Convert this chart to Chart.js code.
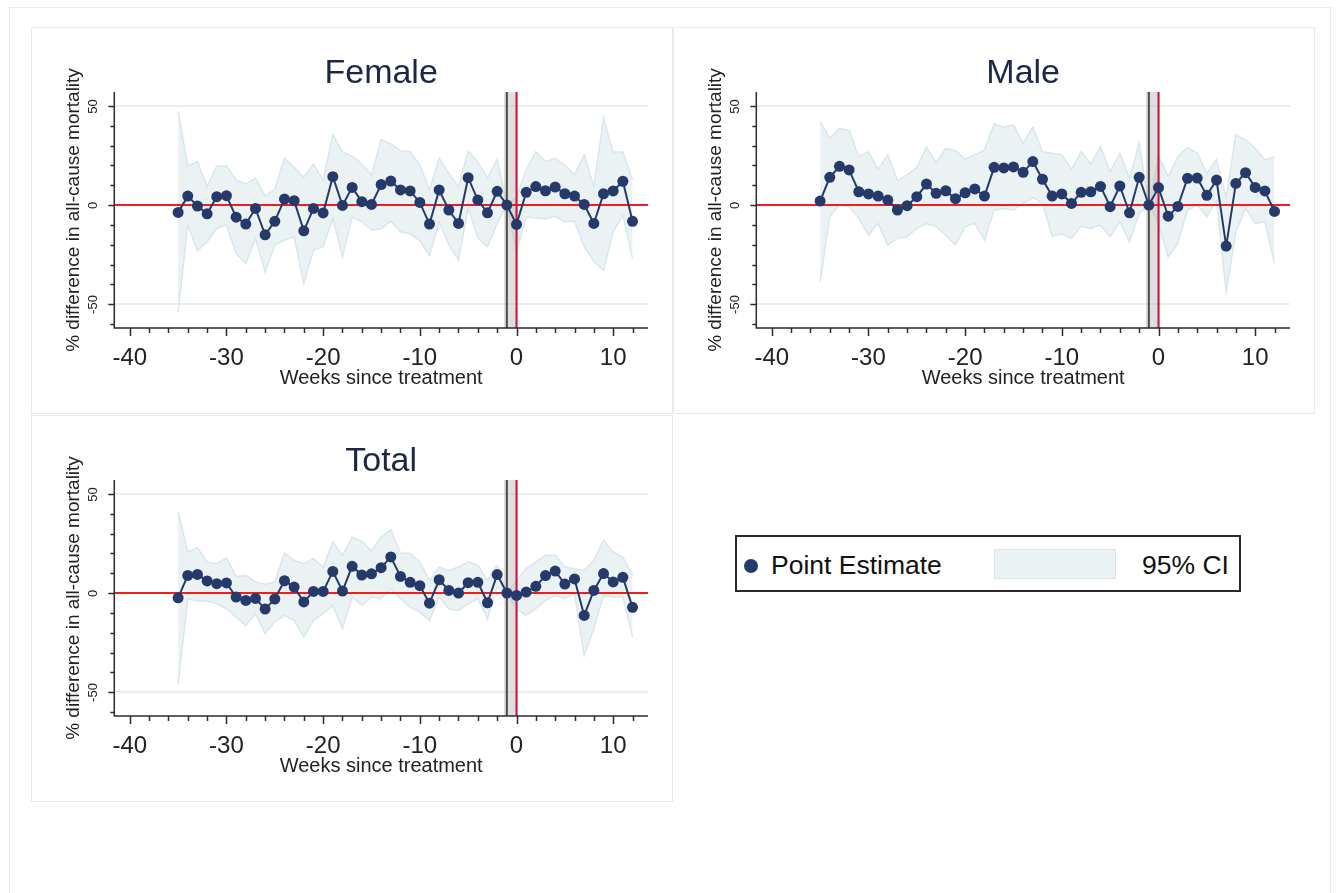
<!DOCTYPE html>
<html><head><meta charset="utf-8">
<script src="https://cdn.jsdelivr.net/npm/chart.js@4.4.1/dist/chart.umd.min.js"></script>
<style>
html,body{margin:0;padding:0;background:#fff;}
body{width:1340px;height:893px;position:relative;overflow:hidden;font-family:'Liberation Sans',Arial,sans-serif;}
#outer{position:absolute;left:9px;top:7px;width:1320px;height:900px;border:1.5px solid #e4eef0;}
.panel{position:absolute;width:640px;height:385px;border:1px solid #e2ecef;background:#fff;}
.panel canvas{position:absolute;left:0;top:0;}
#legend{position:absolute;left:735px;top:535px;width:502px;height:53px;border:2px solid #2a2a2a;background:#fff;}
#legend .dot{position:absolute;left:7px;top:22px;width:14px;height:14px;border-radius:50%;background:#253a6a;}
#legend .t1{position:absolute;left:34px;top:13px;font-size:26.5px;color:#111;line-height:30px;}
#legend .sw{position:absolute;left:257px;top:12px;width:122px;height:30px;background:#ebf2f4;border:1.5px solid #d9e7ec;box-sizing:border-box;}
#legend .t2{position:absolute;left:405px;top:13px;font-size:26.5px;color:#111;line-height:30px;}
</style></head>
<body>
<div id="outer"></div>
<div class="panel" style="left:31px;top:27px;"><canvas id="cFemale" width="640" height="385"></canvas></div>
<div class="panel" style="left:673px;top:27px;"><canvas id="cMale" width="640" height="385"></canvas></div>
<div class="panel" style="left:31px;top:415px;"><canvas id="cTotal" width="640" height="385"></canvas></div>
<div id="legend"><div class="dot"></div><div class="t1">Point Estimate</div><div class="sw"></div><div class="t2">95% CI</div></div>
<script>
const weeks = [-35,-34,-33,-32,-31,-30,-29,-28,-27,-26,-25,-24,-23,-22,-21,-20,-19,-18,-17,-16,-15,-14,-13,-12,-11,-10,-9,-8,-7,-6,-5,-4,-3,-2,-1,0,1,2,3,4,5,6,7,8,9,10,11,12];
const xTickLabels = ['-40','-30','-20','-10','0','10'];
const yTickLabels = ['-50','0','50'];

const femaleEst = [-3.7,4.5,-0.5,-4.4,4.2,4.7,-6.1,-9.6,-1.7,-15.0,-8.2,3.0,2.2,-13.0,-1.7,-4.0,14.3,-0.2,8.9,1.7,0.3,10.3,12.1,7.6,7.1,1.3,-9.6,7.6,-2.5,-9.3,13.8,2.5,-3.9,6.9,0,-9.8,6.4,9.3,7.2,9.1,5.7,4.5,0.3,-9.3,5.7,7.1,12.0,-8.2];
const femaleHi  = [47.1,19.7,21.9,9.3,19.7,19.7,12.6,10.6,13.5,4.5,7.9,23.6,19.0,14.0,20.7,12.6,35.4,26.9,24.7,20.7,15.2,33.0,30.8,27.4,26.9,20.2,7.6,23.6,16.0,9.3,27.3,21.9,13.5,23.1,0,4.0,17.7,26.9,21.9,23.6,20.2,15.2,25.3,9.3,43.8,26.6,26.9,12.6];
const femaleLo  = [-53.9,-10.1,-23.1,-18.5,-11.8,-10.1,-24.4,-29.5,-16.8,-33.7,-20.2,-17.7,-16.0,-39.6,-22.7,-21.0,-6.7,-26.1,-5.9,-8.4,-12.6,-12.0,-8.0,-13.5,-14.5,-18.0,-25.5,-8.4,-20.0,-27.8,-1.5,-16.5,-21.0,-9.3,0,-23.6,-6.0,-6.5,-7.0,-5.6,-8.6,-8.0,-21.0,-28.5,-32.8,-13.5,-5.0,-26.9];

const maleEst = [2.0,14.0,19.5,17.7,6.7,5.6,4.5,2.5,-2.5,-0.3,4.2,10.6,5.9,7.2,3.2,6.2,8.1,4.5,19.0,18.7,19.2,16.5,21.9,13.0,4.5,5.6,0.8,6.4,6.7,9.4,-0.8,9.6,-3.9,14.0,0,8.8,-5.6,-0.7,13.5,13.6,4.9,12.6,-20.7,10.9,16.3,8.9,7.1,-3.2];
const maleHi  = [42.1,33.7,38.7,37.5,24.4,26.9,18.0,25.3,12.3,15.2,19.0,29.1,21.4,28.6,27.4,23.1,25.3,27.8,40.9,39.2,40.4,31.1,39.2,26.9,26.1,25.3,18.0,26.9,20.7,29.5,16.8,26.1,13.5,31.1,0,24.4,14.3,24.4,29.1,26.1,16.0,23.0,3.4,35.4,32.8,28.6,22.7,24.4];
const maleLo  = [-38.7,-5.9,0,-0.8,-6.7,-15.2,-9.3,-20.2,-16.8,-16.0,-11.8,-9.3,-10.9,-15.2,-20.2,-10.9,-9.3,-17.7,-2.5,-1.7,-2.5,0.8,3.9,0.8,-15.7,-14.6,-16.8,-10.6,-11.8,-10.1,-16.0,-8.4,-18.5,-4.2,0,-9.3,-26.1,-19.4,-2.5,0,-5.9,2.2,-43.8,-13.5,-1.7,-9.3,-8.4,-29.5];

const totalEst = [-2.4,8.9,9.4,6.1,4.7,5.1,-2.0,-3.7,-2.7,-8.1,-3.0,6.2,3.0,-4.5,0.8,0.8,10.9,1.0,13.5,9.1,9.7,12.8,18.2,8.4,5.4,3.7,-5.1,6.7,1.3,0,5.2,5.4,-4.9,9.3,0,-1.2,0.5,3.4,8.8,11.1,4.5,7.1,-11.3,1.3,9.8,5.6,7.9,-7.2];
const totalHi  = [40.9,20.7,22.9,15.7,14.8,17.8,8.4,8.9,5.6,4.4,5.6,20.2,16.5,14.8,17.3,12.8,25.8,19.0,28.1,26.1,21.2,28.3,32.0,20.2,19.9,15.7,6.4,13.1,11.4,13.1,15.7,14.0,6.4,14.0,0,6.4,12.3,15.7,19.0,19.0,13.1,12.3,11.4,16.5,26.6,20.7,18.2,8.9];
const totalLo  = [-45.8,-2.9,-4.0,-4.0,-5.4,-7.9,-12.1,-16.3,-10.4,-20.5,-14.6,-11.3,-13.8,-22.2,-13.8,-10.4,-6.2,-18.0,-2.0,-6.2,-2.0,-2.9,2.2,-2.9,-7.1,-9.6,-13.8,-2.0,-7.9,-8.8,-5.4,-2.9,-13.0,3.0,0,-7.9,-11.3,-7.9,-3.7,-1.2,-2.9,-0.3,-31.5,-18.0,-1.2,-2.0,-2.0,-22.2];

const F = "'Liberation Sans', Arial, sans-serif";
const NAVY = '#253a6a';
const CI_FILL = '#ebf2f4';
const CI_LINE = '#d9e7ec';

const panelDeco = {
  id: 'panelDeco',
  beforeDatasetsDraw(chart) {
    const {ctx, chartArea: a, scales: {y}} = chart;
    ctx.save();
    ctx.strokeStyle = '#e6eff2';
    ctx.lineWidth = 2;
    for (const t of y.ticks) {
      if (t.value !== 0 && yTickLabels.includes(String(t.value))) {
        const py = Math.round(y.getPixelForValue(t.value));
        ctx.beginPath(); ctx.moveTo(a.left, py); ctx.lineTo(a.right, py); ctx.stroke();
      }
    }
    ctx.restore();
  },
  afterDatasetDraw(chart, args) {
    if (args.index !== 1) return;
    const {ctx, chartArea: a, scales: {x, y}} = chart;
    ctx.save();
    const bx0 = x.getPixelForValue(-1.3), bx1 = x.getPixelForValue(0.15);
    ctx.fillStyle = 'rgba(185,185,185,0.45)';
    ctx.fillRect(bx0, a.top, bx1 - bx0, a.bottom - a.top);
    const py0 = y.getPixelForValue(0);
    ctx.strokeStyle = '#f01e1e';
    ctx.lineWidth = 2;
    ctx.beginPath(); ctx.moveTo(a.left, py0); ctx.lineTo(a.right, py0); ctx.stroke();
    const xm1 = x.getPixelForValue(-1), x0 = x.getPixelForValue(0);
    ctx.strokeStyle = '#4a4a4a';
    ctx.lineWidth = 2;
    ctx.beginPath(); ctx.moveTo(xm1, a.top); ctx.lineTo(xm1, a.bottom); ctx.stroke();
    ctx.strokeStyle = '#d0103c';
    ctx.beginPath(); ctx.moveTo(x0, a.top); ctx.lineTo(x0, a.bottom); ctx.stroke();
    ctx.restore();
  },
  afterDraw(chart) {
    const {ctx, chartArea: a, scales: {x, y}} = chart;
    ctx.save();
    ctx.strokeStyle = '#2b2b2b';
    ctx.lineWidth = 1.5;
    ctx.beginPath();
    ctx.moveTo(a.left, a.top); ctx.lineTo(a.left, a.bottom); ctx.lineTo(a.right, a.bottom);
    ctx.stroke();
    for (const t of x.ticks) {
      const px = Math.round(x.getPixelForValue(t.value)) + 0.5;
      const major = xTickLabels.includes(String(t.value));
      ctx.beginPath(); ctx.moveTo(px, a.bottom); ctx.lineTo(px, a.bottom + (major ? 8 : 5)); ctx.stroke();
    }
    ctx.fillStyle = '#222';
    ctx.font = '13px ' + F;
    ctx.textAlign = 'center';
    ctx.textBaseline = 'middle';
    for (const t of y.ticks) {
      const py = Math.round(y.getPixelForValue(t.value)) + 0.5;
      const major = yTickLabels.includes(String(t.value));
      ctx.beginPath(); ctx.moveTo(a.left, py); ctx.lineTo(a.left - (major ? 6 : 4), py); ctx.stroke();
      if (major) {
        ctx.save();
        ctx.translate(a.left - 21, py);
        ctx.rotate(-Math.PI / 2);
        ctx.fillText(String(t.value), 0, 0);
        ctx.restore();
      }
    }
    ctx.restore();
  }
};

function pts(vals) { return weeks.map((w, i) => ({x: w, y: vals[i]})); }

function makeChart(id, title, est, lo, hi) {
  return new Chart(document.getElementById(id), {
    type: 'line',
    data: {
      datasets: [
        {label: 'Point Estimate', data: pts(est), borderColor: NAVY, backgroundColor: NAVY,
         borderWidth: 2, pointRadius: 5.5, pointBackgroundColor: NAVY, pointBorderWidth: 0,
         tension: 0, fill: false},
        {label: 'CI upper', data: pts(hi), borderColor: CI_LINE, borderWidth: 1.5,
         pointRadius: 0, tension: 0, fill: false},
        {label: '95% CI', data: pts(lo), borderColor: CI_LINE, borderWidth: 1.5,
         pointRadius: 0, tension: 0, fill: '-1', backgroundColor: CI_FILL}
      ]
    },
    options: {
      responsive: false, animation: false, devicePixelRatio: 1,
      layout: {padding: {left: 0, right: 24, top: 0, bottom: 0}},
      plugins: {
        legend: {display: false},
        tooltip: {enabled: false},
        title: {display: true, text: title, color: '#1b2845', fullSize: false,
                font: {family: F, size: 34, weight: 'normal'}, padding: {top: 25, bottom: -1.8}}
      },
      scales: {
        x: {
          type: 'linear', min: -41.6, max: 13.6,
          grid: {display: false, drawTicks: false}, border: {display: false},
          ticks: {stepSize: 2, includeBounds: false, autoSkip: false, maxRotation: 0, minRotation: 0,
                  padding: 16, color: '#222', font: {family: F, size: 24},
                  callback: (v) => xTickLabels.includes(String(v)) ? String(v) : ''},
          title: {display: true, text: 'Weeks since treatment', color: '#222',
                  font: {family: F, size: 20}, padding: {top: 0, bottom: 23}},
          afterFit(s) { s.height = 85; }
        },
        y: {
          type: 'linear', min: -62, max: 57,
          grid: {display: false, drawTicks: false}, border: {display: false},
          ticks: {stepSize: 10, includeBounds: false, display: false},
          title: {display: true, text: '% difference in all-cause mortality', color: '#222',
                  font: {family: F, size: 19}, padding: {top: 30.5, bottom: 0}},
          afterFit(s) { s.width = 82.3; }
        }
      }
    },
    plugins: [panelDeco]
  });
}

makeChart('cFemale', 'Female', femaleEst, femaleLo, femaleHi);
makeChart('cMale', 'Male', maleEst, maleLo, maleHi);
makeChart('cTotal', 'Total', totalEst, totalLo, totalHi);
</script>
</body></html>
